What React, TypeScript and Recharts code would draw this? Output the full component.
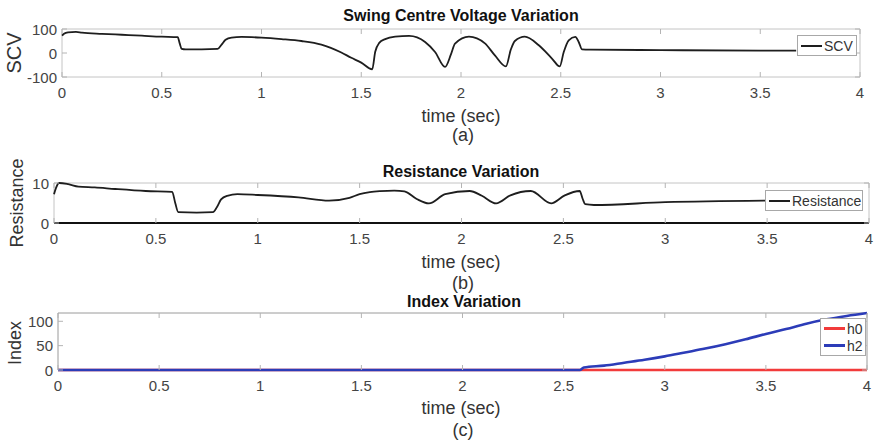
import { LineChart, Line, XAxis, YAxis, ReferenceArea, ReferenceLine } from 'recharts';

// time axis shared by the three panels
const timeTicks = [0, 0.5, 1, 1.5, 2, 2.5, 3, 3.5, 4];

// (a) swing centre voltage
const scvTime = [0, 0.01, 0.03, 0.07, 0.1, 0.2, 0.3, 0.4, 0.5, 0.58, 0.59, 0.6, 0.62, 0.7, 0.78, 0.8, 0.82, 0.85, 0.9, 1.0, 1.1, 1.2, 1.3, 1.4, 1.45, 1.5, 1.555, 1.57, 1.59, 1.62, 1.67, 1.74, 1.82, 1.87, 1.92, 1.95, 1.97, 2.04, 2.12, 2.17, 2.225, 2.25, 2.27, 2.32, 2.39, 2.457, 2.495, 2.515, 2.54, 2.573, 2.59, 2.607, 2.65, 3.0, 3.5, 3.68];
const scvValues = [72, 80, 86, 88, 85, 80, 76, 72, 68, 66, 40, 17, 15, 15, 17, 35, 55, 64, 67, 64, 58, 50, 35, 2, -20, -40, -68, 5, 42, 58, 68, 71, 46, 4, -58, -5, 39, 68, 40, -10, -56, 15, 50, 68, 32, -24, -56, 4, 53, 67, 46, 15, 14, 12, 10, 10];
const scvTicks = [-100, 0, 100];

// (b) resistance
const resTime = [0, 0.01, 0.025, 0.07, 0.12, 0.2, 0.3, 0.45, 0.58, 0.595, 0.61, 0.7, 0.78, 0.8, 0.82, 0.85, 0.9, 1.0, 1.2, 1.35, 1.45, 1.5, 1.55, 1.6, 1.67, 1.72, 1.78, 1.84, 1.92, 2.04, 2.1, 2.17, 2.24, 2.34, 2.44, 2.507, 2.58, 2.595, 2.607, 2.65, 3.0, 3.5];
const resValues = [7.2, 8.8, 10.0, 9.7, 9.1, 8.9, 8.5, 8.0, 7.8, 5.0, 2.7, 2.6, 2.7, 4.0, 5.9, 6.8, 7.2, 7.0, 6.4, 5.6, 6.3, 7.2, 7.7, 7.95, 8.1, 7.9, 6.0, 4.9, 7.2, 8.0, 6.8, 4.9, 6.9, 8.0, 4.9, 6.9, 8.0, 6.0, 4.7, 4.5, 5.2, 5.6];
const resTicks = [0, 5, 10];

// (c) index
const h0Time = [0, 2.6, 4];
const h0Values = [0, 0, 0];
const h2Time = [0, 2.58, 2.6, 2.7, 2.8, 2.9, 3.0, 3.1, 3.2, 3.3, 3.4, 3.5, 3.6, 3.7, 3.8, 3.9, 4.0];
const h2Values = [0, 0, 5, 9, 15, 21, 28, 36, 44, 53, 63, 74, 84, 95, 104, 111, 117];
const indexTicks = [0, 50, 100];

const FONT = '"Liberation Sans", Arial, sans-serif';
const W = 876;
const BOX = '#c4c4c4';
const TICK = '#b4b4b4';

const toRows = (ts: number[], vs: number[], key: string) => ts.map((t, i) => ({ t, [key]: vs[i] }));

function makeXTick(top: number, bottom: number) {
  return (props: any) => {
    const { x, payload } = props;
    return (
      <g>
        <line x1={x} x2={x} y1={bottom} y2={bottom - 5} stroke={TICK} />
        <line x1={x} x2={x} y1={top} y2={top + 5} stroke={TICK} />
        <text x={x} y={bottom + 15} textAnchor="middle" dominantBaseline="central" fontSize={15} fill="#444" fontFamily={FONT}>
          {payload.value}
        </text>
      </g>
    );
  };
}

function makeYTick(left: number, right: number) {
  return (props: any) => {
    const { y, payload } = props;
    return (
      <g>
        <line x1={left} x2={left + 5} y1={y} y2={y} stroke={TICK} />
        <line x1={right} x2={right - 5} y1={y} y2={y} stroke={TICK} />
        <text x={left - 5} y={y} textAnchor="end" dominantBaseline="central" fontSize={15} fill="#444" fontFamily={FONT}>
          {payload.value}
        </text>
      </g>
    );
  };
}

interface Frame {
  top: number; // page y of the chart box
  height: number;
  left: number; // plot area, page coords
  right: number;
  plotTop: number;
  plotBottom: number;
}

function frameProps(f: Frame) {
  const rel = { top: f.plotTop - f.top, bottom: f.plotBottom - f.top };
  return {
    margin: { top: rel.top, right: W - f.right, left: 0, bottom: f.height - rel.bottom - 30 },
    xTick: makeXTick(rel.top, rel.bottom),
    yTick: makeYTick(f.left, f.right),
  };
}

const frameA: Frame = { top: 0, height: 140, left: 62, right: 860, plotTop: 29, plotBottom: 77 };
const frameB: Frame = { top: 140, height: 145, left: 54, right: 869, plotTop: 183, plotBottom: 223 };
const frameC: Frame = { top: 285, height: 158, left: 58, right: 867, plotTop: 313, plotBottom: 370 };

const textStyle = (x: number, y: number, size: number, extra: any = {}): any => ({
  position: 'absolute',
  left: x,
  top: y,
  transform: 'translate(-50%, -50%)',
  fontFamily: FONT,
  fontSize: size,
  color: '#333',
  whiteSpace: 'nowrap',
  lineHeight: 1,
  ...extra,
});

function LegendBox({ x, y, w, items }: { x: number; y: number; w: number; items: { name: string; color: string; width: number }[] }) {
  return (
    <div
      style={{
        position: 'absolute',
        left: x,
        top: y,
        width: w,
        background: '#fff',
        border: '1px solid #a8a8a8',
        padding: '1px 0',
        fontFamily: FONT,
        fontSize: 14,
        color: '#333',
      }}
    >
      {items.map((it) => (
        <div key={it.name} style={{ display: 'flex', alignItems: 'center', height: 17, paddingLeft: 3 }}>
          <span style={{ display: 'inline-block', width: 21, height: it.width, background: it.color, marginRight: 2 }} />
          <span>{it.name}</span>
        </div>
      ))}
    </div>
  );
}

export default function App() {
  const a = frameProps(frameA);
  const b = frameProps(frameB);
  const c = frameProps(frameC);
  const scvRows = toRows(scvTime, scvValues, 'scv');
  const resRows = toRows(resTime, resValues, 'res');
  const h0Rows = toRows(h0Time, h0Values, 'h0');
  const h2Rows = toRows(h2Time, h2Values, 'h2');

  return (
    <div style={{ position: 'absolute', left: 0, top: 0, width: W, height: 443, background: '#fff', overflow: 'hidden' }}>
      <div style={{ position: 'absolute', left: 0, top: frameA.top }}>
        <LineChart width={W} height={frameA.height} margin={a.margin}>
          <XAxis type="number" dataKey="t" domain={[0, 4]} ticks={timeTicks} axisLine={false} tickLine={false} tickSize={0} tickMargin={0} height={30} tick={a.xTick} />
          <YAxis type="number" domain={[-100, 100]} ticks={scvTicks} axisLine={false} tickLine={false} tickSize={0} tickMargin={0} width={frameA.left} tick={a.yTick} />
          <ReferenceArea x1={0} x2={4} y1={-100} y2={100} fill="none" stroke={BOX} />
          <Line data={scvRows} dataKey="scv" type="monotone" stroke="#1e1e1e" strokeWidth={1.8} dot={false} isAnimationActive={false} />
        </LineChart>
      </div>

      <div style={{ position: 'absolute', left: 0, top: frameB.top }}>
        <LineChart width={W} height={frameB.height} margin={b.margin}>
          <XAxis type="number" dataKey="t" domain={[0, 4]} ticks={timeTicks} axisLine={false} tickLine={false} tickSize={0} tickMargin={0} height={30} tick={b.xTick} />
          <YAxis type="number" domain={[0, 10]} ticks={resTicks} axisLine={false} tickLine={false} tickSize={0} tickMargin={0} width={frameB.left} tick={b.yTick} />
          <ReferenceArea x1={0} x2={4} y1={0} y2={10} fill="none" stroke={BOX} />
          <ReferenceLine y={0} stroke="#111" strokeWidth={2} />
          <Line data={resRows} dataKey="res" type="monotone" stroke="#1e1e1e" strokeWidth={1.8} dot={false} isAnimationActive={false} />
        </LineChart>
      </div>

      <div style={{ position: 'absolute', left: 0, top: frameC.top }}>
        <LineChart width={W} height={frameC.height} margin={c.margin}>
          <XAxis type="number" dataKey="t" domain={[0, 4]} ticks={timeTicks} axisLine={false} tickLine={false} tickSize={0} tickMargin={0} height={30} tick={c.xTick} />
          <YAxis type="number" domain={[0, 117]} ticks={indexTicks} axisLine={false} tickLine={false} tickSize={0} tickMargin={0} width={frameC.left} tick={c.yTick} />
          <ReferenceArea x1={0} x2={4} y1={0} y2={117} fill="none" stroke="#9a9a9a" />
          <Line data={h0Rows} dataKey="h0" type="linear" stroke="#f23b3b" strokeWidth={2.6} dot={false} isAnimationActive={false} />
          <Line data={h2Rows} dataKey="h2" type="monotone" stroke="#2c3cb8" strokeWidth={2.6} dot={false} isAnimationActive={false} />
        </LineChart>
      </div>

      {/* titles and labels */}
      <div style={textStyle(461, 16, 16, { fontWeight: 700, color: '#111' })}>Swing Centre Voltage Variation</div>
      <div style={textStyle(14, 53, 20, { transform: 'translate(-50%, -50%) rotate(-90deg)' })}>SCV</div>
      <div style={textStyle(461, 116, 18)}>time (sec)</div>
      <div style={textStyle(463, 135, 18)}>(a)</div>

      <div style={textStyle(461, 172, 16, { fontWeight: 700, color: '#111' })}>Resistance Variation</div>
      <div style={textStyle(17, 203, 18, { transform: 'translate(-50%, -50%) rotate(-90deg)' })}>Resistance</div>
      <div style={textStyle(461, 262, 18)}>time (sec)</div>
      <div style={textStyle(463, 283, 18)}>(b)</div>

      <div style={textStyle(464, 302, 16, { fontWeight: 700, color: '#111' })}>Index Variation</div>
      <div style={textStyle(15, 343, 18, { transform: 'translate(-50%, -50%) rotate(-90deg)' })}>Index</div>
      <div style={textStyle(461, 408, 18)}>time (sec)</div>
      <div style={textStyle(463, 430, 18)}>(c)</div>

      <LegendBox x={797} y={35} w={58} items={[{ name: 'SCV', color: '#1e1e1e', width: 2 }]} />
      <LegendBox x={765} y={190} w={96} items={[{ name: 'Resistance', color: '#1e1e1e', width: 2 }]} />
      <LegendBox x={820} y={318} w={44} items={[{ name: 'h0', color: '#f23b3b', width: 3 }, { name: 'h2', color: '#2c3cb8', width: 3 }]} />
    </div>
  );
}
